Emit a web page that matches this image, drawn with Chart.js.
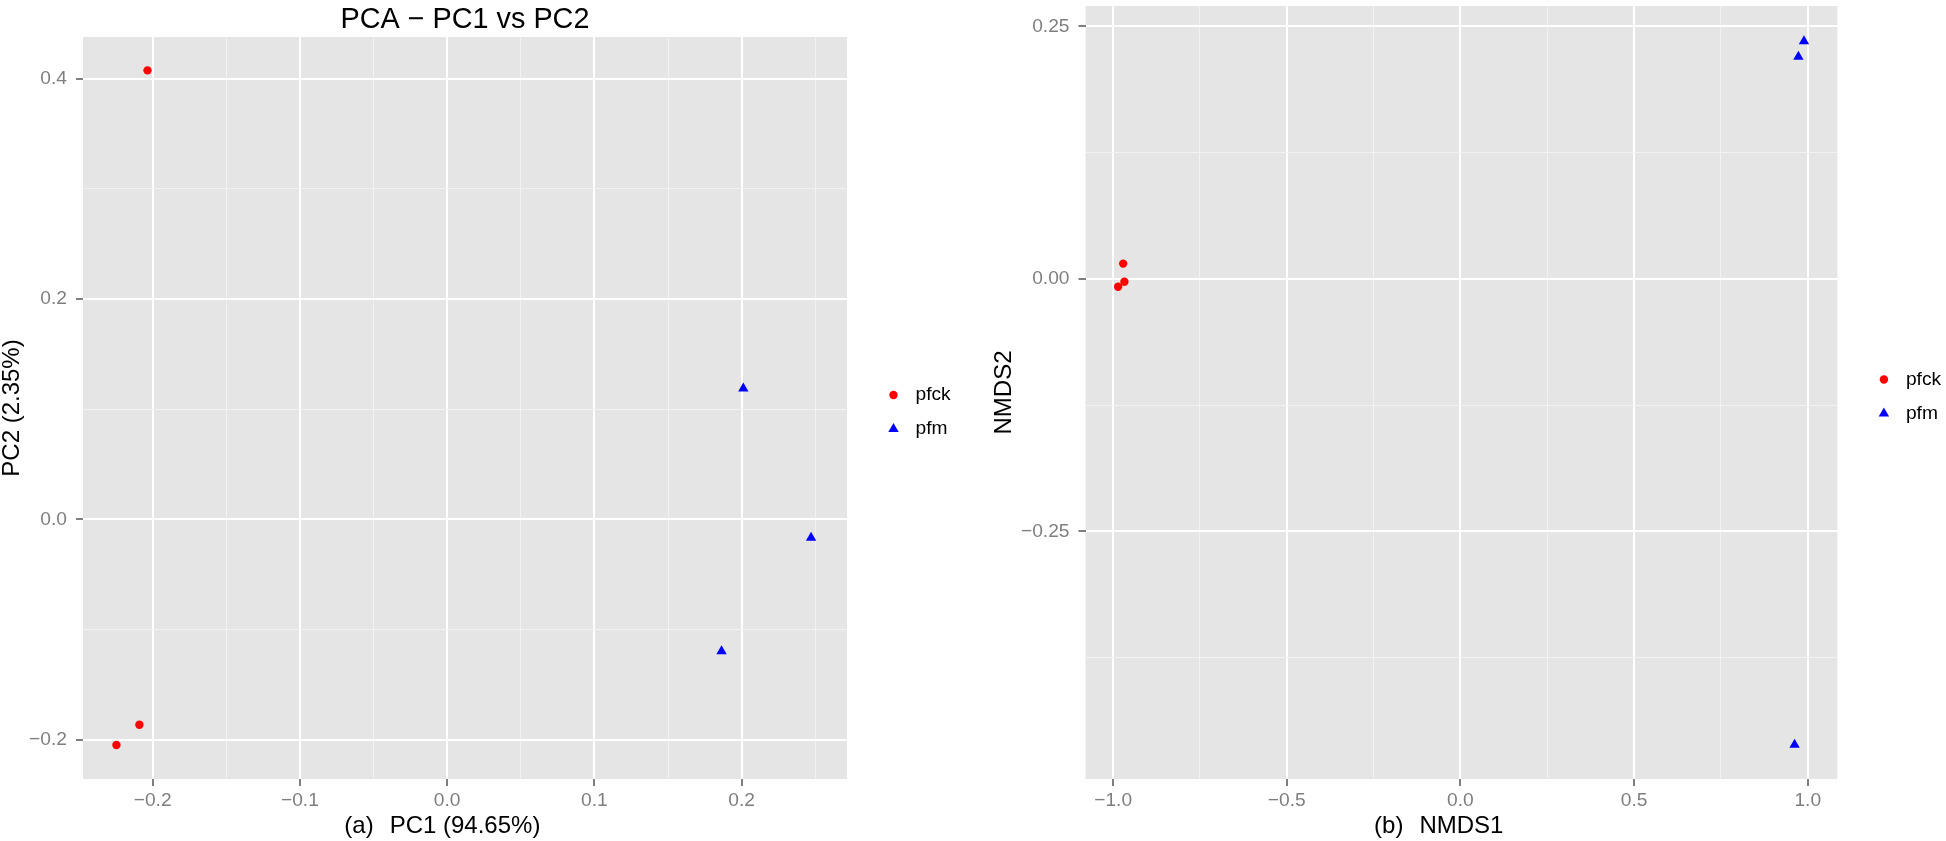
<!DOCTYPE html>
<html>
<head>
<meta charset="utf-8">
<title>PCA and NMDS</title>
<script src="https://cdn.jsdelivr.net/npm/chart.js@4.4.0/dist/chart.umd.min.js"></script>
<style>
html, body { margin: 0; padding: 0; background: #fff; }
#wrap { position: relative; width: 1946px; height: 841px; }
canvas { position: absolute; top: 0; }
#pca { left: 0; }
#nmds { left: 960px; }
</style>
</head>
<body>
<div id="wrap">
  <canvas id="pca" width="960" height="841"></canvas>
  <canvas id="nmds" width="986" height="841"></canvas>
</div>
<script>
// groups
var groups = ['pfck', 'pfm'];

// (a) PCA scores
var pcaPfckPC1 = [-0.2035, -0.2090, -0.2246];
var pcaPfckPC2 = [0.4075, -0.1864, -0.2048];
var pcaPfmPC1 = [0.2011, 0.2471, 0.1863];
var pcaPfmPC2 = [0.1188, -0.0167, -0.1198];

// (b) NMDS scores
var nmdsPfck1 = [-0.9710, -0.9675, -0.9856];
var nmdsPfck2 = [0.0152, -0.0028, -0.0077];
var nmdsPfm1 = [0.989, 0.973, 0.962];
var nmdsPfm2 = [0.2353, 0.2201, -0.4614];

// ticks
var pcaXTicks = [-0.2, -0.1, 0, 0.1, 0.2];
var pcaXLabels = ['\u22120.2', '\u22120.1', '0.0', '0.1', '0.2'];
var pcaYTicks = [-0.2, 0, 0.2, 0.4];
var pcaYLabels = ['\u22120.2', '0.0', '0.2', '0.4'];
var nmdsXTicks = [-1, -0.5, 0, 0.5, 1];
var nmdsXLabels = ['\u22121.0', '\u22120.5', '0.0', '0.5', '1.0'];
var nmdsYTicks = [-0.25, 0, 0.25];
var nmdsYLabels = ['\u22120.25', '0.00', '0.25'];

var FONT = '"Liberation Sans", Arial, Helvetica, sans-serif';
Chart.defaults.font.family = FONT;

function minorTicks(major, min, max) {
  var step = major[1] - major[0];
  var out = [];
  for (var i = -1; i < major.length; i++) {
    var v = +(major[0] + (i + 0.5) * step).toFixed(6);
    if (v > min && v < max) out.push(v);
  }
  return out;
}

function majorIndex(major, v) {
  for (var i = 0; i < major.length; i++) {
    if (Math.abs(major[i] - v) < 1e-9) return i;
  }
  return -1;
}

function axis(pos, min, max, major, labels, size, title, titlePad) {
  var all = major.concat(minorTicks(major, min, max)).sort(function (a, b) { return a - b; });
  var isMajor = function (c) { return c.tick && majorIndex(major, c.tick.value) >= 0; };
  return {
    type: 'linear',
    position: pos,
    min: min,
    max: max,
    bounds: 'data',
    afterBuildTicks: function (ax) {
      ax.ticks = all.map(function (v) { return { value: v }; });
    },
    afterFit: function (ax) {
      if (pos === 'left') ax.width = size; else ax.height = size;
      // labels may overhang the panel, don't let them push it in
      ax.paddingTop = ax.paddingBottom = ax.paddingLeft = ax.paddingRight = 0;
    },
    border: { display: false },
    grid: {
      color: function (c) { return isMajor(c) ? '#FFFFFF' : '#F2F2F2'; },
      lineWidth: function (c) { return isMajor(c) ? 2 : 1; },
      tickColor: function (c) { return isMajor(c) ? '#7F7F7F' : 'rgba(0,0,0,0)'; },
      tickWidth: 2,
      tickLength: 7
    },
    ticks: {
      autoSkip: false,
      maxRotation: 0,
      minRotation: 0,
      padding: pos === 'left' ? 9 : 3,
      color: '#7F7F7F',
      font: { size: 19.2 },
      callback: function (v) {
        var k = majorIndex(major, v);
        return k >= 0 ? labels[k] : '';
      }
    },
    title: {
      display: true,
      text: title,
      color: '#000000',
      font: { size: 24, lineHeight: 1 },
      padding: titlePad
    }
  };
}

// grey panel, "(a)"/"(b)" tag before the x title, legend keys
var panelDecor = {
  id: 'panelDecor',
  beforeDraw: function (chart) {
    var a = chart.chartArea, ctx = chart.ctx;
    ctx.save();
    ctx.fillStyle = '#E5E5E5';
    ctx.fillRect(a.left, a.top, a.right - a.left, a.bottom - a.top);
    ctx.restore();
  },
  afterDraw: function (chart, args, opts) {
    var a = chart.chartArea, ctx = chart.ctx;
    var xs = chart.scales.x;
    ctx.save();
    // tag in front of x axis title
    ctx.font = '24px ' + FONT;
    ctx.fillStyle = '#000000';
    ctx.textBaseline = 'middle';
    var w = ctx.measureText(xs.options.title.text).width;
    ctx.textAlign = 'right';
    ctx.fillText(opts.tag, (a.left + a.right) / 2 - w / 2 - 16, xs.bottom - 15);

    // legend
    var sets = chart.data.datasets;
    var cx = a.right + 46.5;
    var cy = (a.top + a.bottom) / 2 + 4;
    ctx.font = '19.2px ' + FONT;
    ctx.textAlign = 'left';
    sets.forEach(function (ds, i) {
      var y = cy + (i - (sets.length - 1) / 2) * 34;
      var r = ds.pointRadius;
      ctx.fillStyle = ds.backgroundColor;
      ctx.beginPath();
      if (ds.pointStyle === 'triangle') {
        var rad = 0;
        ctx.moveTo(cx + Math.sin(rad) * r, y - Math.cos(rad) * r);
        rad += 2 * Math.PI / 3;
        ctx.lineTo(cx + Math.sin(rad) * r, y - Math.cos(rad) * r);
        rad += 2 * Math.PI / 3;
        ctx.lineTo(cx + Math.sin(rad) * r, y - Math.cos(rad) * r);
      } else {
        ctx.arc(cx, y, r, 0, Math.PI * 2);
      }
      ctx.closePath();
      ctx.fill();
      ctx.fillStyle = '#000000';
      ctx.fillText(ds.label, cx + 22, y);
    });
    ctx.restore();
  }
};

function pts(xs, ys) {
  return xs.map(function (x, i) { return { x: x, y: ys[i] }; });
}

function sets(x1, y1, x2, y2) {
  return [{
    label: groups[0],
    data: pts(x1, y1),
    pointStyle: 'circle',
    pointRadius: 4.2,
    pointHoverRadius: 4.2,
    borderWidth: 0,
    backgroundColor: '#FF0000'
  }, {
    label: groups[1],
    data: pts(x2, y2),
    pointStyle: 'triangle',
    pointRadius: 6,
    pointHoverRadius: 6,
    borderWidth: 0,
    backgroundColor: '#0000FF'
  }];
}

new Chart(document.getElementById('pca'), {
  type: 'scatter',
  data: { datasets: sets(pcaPfckPC1, pcaPfckPC2, pcaPfmPC1, pcaPfmPC2) },
  plugins: [panelDecor],
  options: {
    responsive: false,
    animation: false,
    layout: { padding: { left: 0, right: 113, top: 0, bottom: 0 } },
    scales: {
      x: axis('bottom', -0.2473, 0.2715, pcaXTicks, pcaXLabels, 62, 'PC1 (94.65%)', { top: 0, bottom: 3 }),
      y: axis('left', -0.2357, 0.4378, pcaYTicks, pcaYLabels, 83, 'PC2 (2.35%)', { top: 0.5, bottom: 0 })
    },
    plugins: {
      legend: { display: false },
      tooltip: { enabled: false },
      title: {
        display: true,
        text: 'PCA \u2212 PC1 vs PC2',
        fullSize: false,
        color: '#000000',
        font: { size: 28.8, weight: 'normal', lineHeight: 1.1 },
        padding: { top: 4, bottom: 1.3 }
      },
      panelDecor: { tag: '(a)' }
    }
  }
});

new Chart(document.getElementById('nmds'), {
  type: 'scatter',
  data: { datasets: sets(nmdsPfck1, nmdsPfck2, nmdsPfm1, nmdsPfm2) },
  plugins: [panelDecor],
  options: {
    responsive: false,
    animation: false,
    layout: { padding: { left: 0, right: 108.6, top: 1.7, bottom: 0 } },
    scales: {
      x: axis('bottom', -1.0795, 1.0853, nmdsXTicks, nmdsXLabels, 62, 'NMDS1', { top: 0, bottom: 3 }),
      y: axis('left', -0.4952, 0.2703, nmdsYTicks, nmdsYLabels, 125.5, 'NMDS2', { top: 32, bottom: 0 })
    },
    plugins: {
      legend: { display: false },
      tooltip: { enabled: false },
      title: { display: false },
      panelDecor: { tag: '(b)' }
    }
  }
});
</script>
</body>
</html>
